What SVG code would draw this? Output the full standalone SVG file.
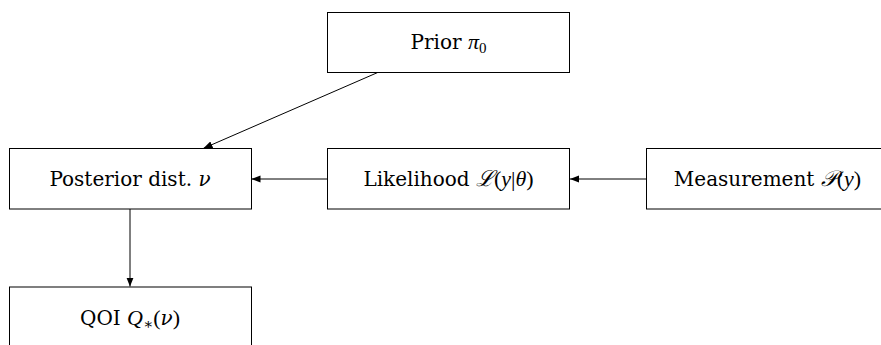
<svg xmlns="http://www.w3.org/2000/svg" width="881" height="345" viewBox="0 0 881 345">
<style>
.box{fill:#fff;stroke:#000;stroke-width:1}
.lbl{font-family:"DejaVu Serif","Liberation Serif",serif;font-size:20px;fill:#000;text-anchor:middle}
.m{font-family:"Liberation Serif","DejaVu Serif",serif;font-style:italic;font-size:22px}
.nu{font-family:"DejaVu Serif",serif;font-style:italic;font-size:20px}
.p{font-family:"Liberation Serif","DejaVu Serif",serif;font-size:22px}
.sub{font-family:"Liberation Serif","DejaVu Serif",serif;font-size:15px}
.edge{fill:none;stroke:#000;stroke-width:1;marker-end:url(#ah)}
</style>
<defs>
<marker id="ah" viewBox="0 0 10 8" refX="10" refY="4" markerWidth="9" markerHeight="7.2" markerUnits="userSpaceOnUse" orient="auto">
<path d="M0,0 L10,4 L0,8 Z" fill="#000"/>
</marker>
</defs>
<g id="connectors">
<path class="edge" d="M377.7,72.5 L203.5,148.3"/>
<path class="edge" d="M327.5,179 L251.5,179"/>
<path class="edge" d="M646.5,179 L570,179"/>
<path class="edge" d="M130,209 L130,286.5"/>
</g>
<g id="prior">
<rect class="box" x="327.5" y="12.5" width="242" height="60"/>
<text class="lbl" x="448.5" y="49">Prior <tspan class="m">π</tspan><tspan class="sub" dy="4">0</tspan></text>
</g>
<g id="posterior">
<rect class="box" x="9.5" y="148.5" width="242" height="60.5"/>
<text class="lbl" x="130" y="186">Posterior dist. <tspan class="nu">ν</tspan></text>
</g>
<g id="likelihood">
<rect class="box" x="327.5" y="148.5" width="242" height="60.5"/>
<text class="lbl" x="448.5" y="186">Likelihood <tspan class="m">ℒ</tspan><tspan class="p">(</tspan><tspan class="m">y</tspan><tspan class="p">|</tspan><tspan class="m">θ</tspan><tspan class="p">)</tspan></text>
</g>
<g id="measurement">
<rect class="box" x="646.5" y="148.5" width="242" height="60.5"/>
<text class="lbl" x="767.5" y="186">Measurement <tspan class="m">𝒫</tspan><tspan class="p">(</tspan><tspan class="m">y</tspan><tspan class="p">)</tspan></text>
</g>
<g id="qoi">
<rect class="box" x="9.5" y="287" width="242" height="60.5"/>
<text class="lbl" x="130" y="325">QOI <tspan class="m">Q</tspan><tspan class="sub" dy="4">∗</tspan><tspan class="p" dy="-4">(</tspan><tspan class="nu">ν</tspan><tspan class="p">)</tspan></text>
</g>
</svg>
